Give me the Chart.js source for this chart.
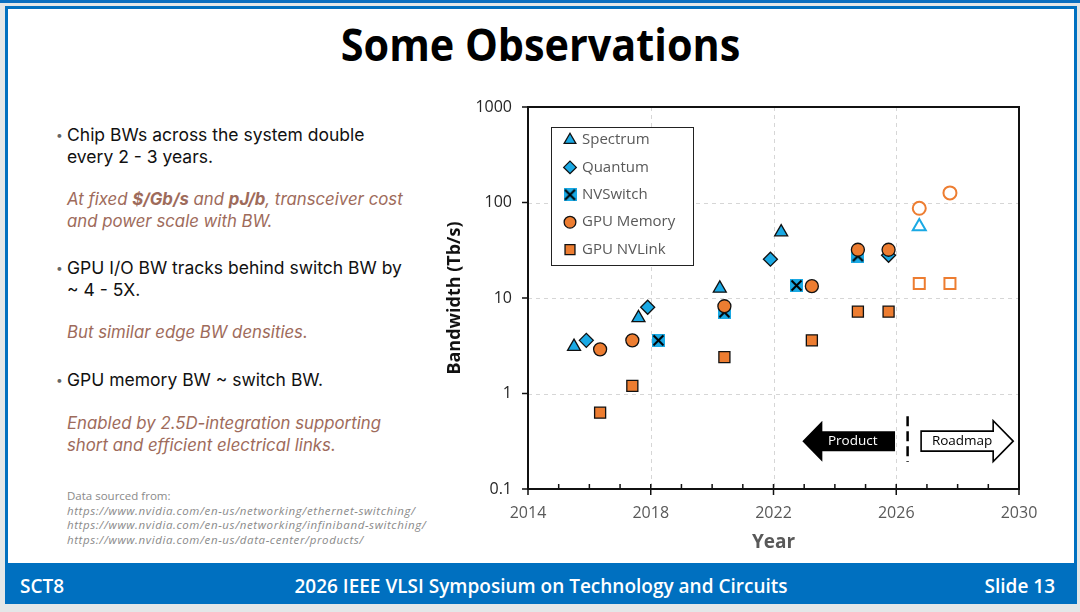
<!DOCTYPE html>
<html>
<head>
<meta charset="utf-8">
<title>Some Observations</title>
<script src="https://cdn.jsdelivr.net/npm/chart.js@4.4.1/dist/chart.umd.min.js"></script>
<style>
  html, body { margin: 0; padding: 0; }
  body { width: 1080px; height: 612px; background: #e3e7e8; position: relative; overflow: hidden; font-family: Inter, "Open Sans", sans-serif; }
  #topbar { position: absolute; left: 0; top: 0; width: 1080px; height: 3px; background: #0a6fc0; }
  #slide { position: absolute; left: 5px; top: 6px; width: 1066px; height: 592px; background: #fff; border: 3px solid #0070c0; }
  #footer { position: absolute; left: 5px; top: 563px; width: 1072px; height: 41px; background: #0070c0; color: #fff;
            font-family: "Open Sans", sans-serif; font-weight: 600; font-size: 19px; }
  #footer span { position: absolute; top: 10px; white-space: nowrap; }
  #title { position: absolute; left: 0; width: 1080px; top: 14px; text-align: center; font-family: "Open Sans", sans-serif;
           font-weight: 700; font-size: 44px; color: #000; }
  #title span { display: inline-block; transform: scaleX(0.94); }
  .para { position: absolute; left: 67px; line-height: 22px; white-space: nowrap; }
  .bul { color: #111; font-size: 17.5px; }
  .bul::before { content: "\2022"; position: absolute; left: -11px; color: #666; font-size: 12px; }
  .note { color: #9e6b5b; font-style: italic; font-size: 16.8px; }
  #src { position: absolute; left: 67px; top: 489px; font-family: "Open Sans", sans-serif; font-size: 11.5px; line-height: 14.6px; color: #8a8a8a; }
  #src i { display: block; letter-spacing: 0.6px; }
  #wrap { position: absolute; left: 440px; top: 95px; width: 610px; height: 465px; }
</style>
</head>
<body>
<div id="topbar"></div>
<div id="slide"></div>
<div id="title"><span>Some Observations</span></div>

<div class="para bul" style="top:124px">Chip BWs across the system double<br>every 2 - 3 years.</div>
<div class="para note" style="top:188px">At fixed <b>$/Gb/s</b> and <b>pJ/b</b>, transceiver cost<br>and power scale with BW.</div>
<div class="para bul" style="top:257px">GPU I/O BW tracks behind switch BW by<br>~ 4 - 5X.</div>
<div class="para note" style="top:321px">But similar edge BW densities.</div>
<div class="para bul" style="top:369px">GPU memory BW ~ switch BW.</div>
<div class="para note" style="top:412px">Enabled by 2.5D-integration supporting<br>short and efficient electrical links.</div>

<div id="src">Data sourced from:
  <i>https://www.nvidia.com/en-us/networking/ethernet-switching/</i>
  <i>https://www.nvidia.com/en-us/networking/infiniband-switching/</i>
  <i>https://www.nvidia.com/en-us/data-center/products/</i>
</div>

<div id="wrap"><canvas id="bw" width="610" height="465"></canvas></div>

<div id="footer">
  <span style="left:15px">SCT8</span>
  <span style="left:0;width:1072px;text-align:center">2026 IEEE VLSI Symposium on Technology and Circuits</span>
  <span style="right:22px">Slide 13</span>
</div>

<script>
// ---- data ----
const spectrumYear = [2015.5, 2017.6, 2020.25, 2022.25, 2026.75];
const spectrumTbps = [3.1, 6.2, 12.6, 49, 56];

const quantumYear = [2015.9, 2017.9, 2021.9, 2025.75];
const quantumTbps = [3.6, 8.0, 25.5, 28];

const nvswitchYear = [2018.25, 2020.4, 2022.75, 2024.75];
const nvswitchTbps = [3.6, 7.1, 13.5, 27.5];

const memoryYear = [2016.35, 2017.4, 2020.4, 2023.25, 2024.75, 2025.75, 2026.75, 2027.75];
const memoryTbps = [2.9, 3.6, 8.2, 13.3, 32, 32, 87, 126];

const nvlinkYear = [2016.35, 2017.4, 2020.4, 2023.25, 2024.75, 2025.75, 2026.75, 2027.75];
const nvlinkTbps = [0.63, 1.2, 2.4, 3.6, 7.2, 7.2, 14.2, 14.2];

const yTickValues = [0.1, 1, 10, 100, 1000];
const yTickLabels = ['0.1', '1', '10', '100', '1000'];
const gridYears = [2018, 2022, 2026];
const gridValues = [1, 10, 100];

// product / roadmap split and the two arrows under it
const ROADMAP_FROM = 2026.37;
const productArrow = [2025.96, 2022.94];   // tail, tip (years)
const roadmapArrow = [2026.81, 2029.81];   // tail, tip (years)
const arrowLevel = 0.317;                  // Tb/s, vertical centre of arrows
const dividerSpan = [0.578, 0.192];        // Tb/s, dashed divider top / bottom

const BLUE = '#1aa9e4';
const ORANGE = '#ed7d31';
const pts = (xs, ys) => xs.map((x, i) => ({ x, y: ys[i] }));
const isRoadmap = (c) => c.raw && c.raw.x > ROADMAP_FROM;

// NVSwitch marker: cyan square with a black X
function makeXBox(size) {
  const c = document.createElement('canvas');
  c.width = size; c.height = size;
  const g = c.getContext('2d');
  g.fillStyle = BLUE;
  g.fillRect(0, 0, size, size);
  g.strokeStyle = '#000';
  g.lineWidth = 2;
  g.beginPath();
  g.moveTo(1.5, 1.5); g.lineTo(size - 1.5, size - 1.5);
  g.moveTo(size - 1.5, 1.5); g.lineTo(1.5, size - 1.5);
  g.stroke();
  return c;
}
const xBox = makeXBox(13);

function series(label, xs, ys, color, pointStyle, radius, order) {
  return {
    label, data: pts(xs, ys), backgroundColor: color, order,
    pointStyle, pointRadius: radius, pointHoverRadius: radius,
    pointBackgroundColor: (c) => isRoadmap(c) ? '#fff' : color,
    pointBorderColor: (c) => isRoadmap(c) ? color : '#111',
    pointBorderWidth: (c) => isRoadmap(c) ? 2 : 1.3,
  };
}

const datasets = [
  series('Spectrum', spectrumYear, spectrumTbps, BLUE, 'triangle', 7.5, 2),
  series('Quantum', quantumYear, quantumTbps, BLUE, 'rectRot', 7, 3),
  series('NVSwitch', nvswitchYear, nvswitchTbps, BLUE, xBox, 7, 4),
  series('GPU Memory', memoryYear, memoryTbps, ORANGE, 'circle', 6.5, 0),
  series('GPU NVLink', nvlinkYear, nvlinkTbps, ORANGE, 'rect', 7.8, 1),
];

/* dashed grid + frame + tick marks */
const framePlugin = {
  id: 'frame',
  beforeDatasetsDraw(chart) {
    const { ctx, chartArea: a, scales: { x, y } } = chart;
    ctx.save();
    ctx.strokeStyle = '#d6d6d6';
    ctx.lineWidth = 1;
    ctx.setLineDash([4, 4]);
    gridYears.forEach((v) => {
      const px = Math.round(x.getPixelForValue(v)) + 0.5;
      ctx.beginPath(); ctx.moveTo(px, a.top); ctx.lineTo(px, a.bottom); ctx.stroke();
    });
    gridValues.forEach((v) => {
      const py = Math.round(y.getPixelForValue(v)) + 0.5;
      ctx.beginPath(); ctx.moveTo(a.left, py); ctx.lineTo(a.right, py); ctx.stroke();
    });
    ctx.restore();
  },
  afterDatasetsDraw(chart) {
    const { ctx, chartArea: a, scales: { x, y } } = chart;
    ctx.save();
    ctx.strokeStyle = '#111';
    ctx.lineWidth = 2;
    ctx.strokeRect(a.left, a.top, a.right - a.left, a.bottom - a.top);
    ctx.lineWidth = 1.5;
    ctx.beginPath();
    for (let yr = 2014; yr <= 2030; yr++) {
      const px = x.getPixelForValue(yr);
      ctx.moveTo(px, a.bottom - 5);
      ctx.lineTo(px, (yr - 2014) % 4 === 0 ? a.bottom + 6 : a.bottom);
    }
    yTickValues.forEach((v) => {
      const py = y.getPixelForValue(v);
      ctx.moveTo(a.left - 6, py); ctx.lineTo(a.left, py);
    });
    ctx.stroke();
    ctx.restore();
  },
};

/* Product <- | -> Roadmap */
function arrowPath(ctx, tipX, tailX, cy, bodyH, headH, headL) {
  const dir = Math.sign(tailX - tipX);
  const neck = tipX + dir * headL;
  ctx.beginPath();
  ctx.moveTo(tipX, cy);
  ctx.lineTo(neck, cy - headH);
  ctx.lineTo(neck, cy - bodyH);
  ctx.lineTo(tailX, cy - bodyH);
  ctx.lineTo(tailX, cy + bodyH);
  ctx.lineTo(neck, cy + bodyH);
  ctx.lineTo(neck, cy + headH);
  ctx.closePath();
}

const roadmapPlugin = {
  id: 'roadmap',
  afterDatasetsDraw(chart) {
    const { ctx, scales: { x, y } } = chart;
    const cy = y.getPixelForValue(arrowLevel);
    ctx.save();
    // divider
    ctx.strokeStyle = '#000';
    ctx.lineWidth = 2.5;
    ctx.setLineDash([10, 5]);
    const dx = x.getPixelForValue(ROADMAP_FROM);
    ctx.beginPath();
    ctx.moveTo(dx, y.getPixelForValue(dividerSpan[0]));
    ctx.lineTo(dx, y.getPixelForValue(dividerSpan[1]));
    ctx.stroke();
    ctx.setLineDash([]);

    ctx.font = '13.5px "Open Sans", sans-serif';
    ctx.textAlign = 'center';
    ctx.textBaseline = 'middle';

    // product (filled, pointing left)
    const pTail = x.getPixelForValue(productArrow[0]);
    const pTip = x.getPixelForValue(productArrow[1]);
    arrowPath(ctx, pTip, pTail, cy, 10, 20.5, 20);
    ctx.fillStyle = '#000';
    ctx.fill();
    ctx.fillStyle = '#fff';
    ctx.fillText('Product', (pTip + pTail) / 2 + 4, cy);

    // roadmap (outlined, pointing right)
    const rTail = x.getPixelForValue(roadmapArrow[0]);
    const rTip = x.getPixelForValue(roadmapArrow[1]);
    arrowPath(ctx, rTip, rTail, cy, 10, 20.5, 20);
    ctx.fillStyle = '#fff';
    ctx.fill();
    ctx.strokeStyle = '#000';
    ctx.lineWidth = 1.6;
    ctx.stroke();
    ctx.fillStyle = '#000';
    ctx.fillText('Roadmap', (rTip + rTail) / 2 - 5, cy);
    ctx.restore();
  },
};

/* boxed legend inside the plot, top-left */
const boxLegendPlugin = {
  id: 'boxLegend',
  afterDraw(chart) {
    const { ctx, chartArea: a } = chart;
    const left = a.left + 23, top = a.top + 20, w = 142, h = 138;
    ctx.save();
    ctx.fillStyle = '#fff';
    ctx.fillRect(left, top, w, h);
    ctx.strokeStyle = '#222';
    ctx.lineWidth = 1;
    ctx.strokeRect(left + 0.5, top + 0.5, w, h);
    ctx.font = '15px "Open Sans", sans-serif';
    ctx.textBaseline = 'middle';
    chart.data.datasets.forEach((ds, i) => {
      const cy = top + 13 + i * 27.4;
      ctx.fillStyle = ds.backgroundColor;
      ctx.strokeStyle = '#111';
      ctx.lineWidth = 1.3;
      Chart.helpers.drawPoint(ctx, {
        pointStyle: ds.pointStyle, radius: ds.pointRadius * 0.9, borderWidth: 1.3, rotation: 0,
      }, left + 19, cy);
      ctx.fillStyle = '#595959';
      ctx.fillText(ds.label, left + 31, cy);
    });
    ctx.restore();
  },
};

new Chart(document.getElementById('bw'), {
  type: 'scatter',
  data: { datasets },
  options: {
    responsive: false,
    animation: false,
    events: [],
    layout: { padding: { top: 12, right: 31, left: 0, bottom: 0 } },
    plugins: { legend: { display: false }, tooltip: { enabled: false } },
    scales: {
      x: {
        type: 'linear', min: 2014, max: 2030,
        grid: { display: false, drawTicks: false, tickLength: 0 },
        border: { display: false },
        ticks: { stepSize: 4, padding: 15, color: '#595959', font: { family: 'Open Sans', size: 16 }, callback: (v) => String(v) },
        title: { display: true, text: 'Year', color: '#595959', font: { family: 'Open Sans', size: 19, weight: 'bold' }, padding: { top: 0, bottom: 6 } },
        afterFit: (s) => { s.height = 71; s.paddingLeft = 0; s.paddingRight = 0; },
      },
      y: {
        type: 'logarithmic', min: 0.1, max: 1000,
        grid: { display: false, drawTicks: false, tickLength: 0 },
        border: { display: false },
        afterBuildTicks: (s) => { s.ticks = yTickValues.map((v) => ({ value: v })); },
        ticks: { padding: 16, color: '#262626', font: { family: 'Open Sans', size: 16 },
                 callback: (v) => yTickLabels[yTickValues.indexOf(v)] ?? '' },
        title: { display: true, text: 'Bandwidth (Tb/s)', color: '#111', font: { family: 'Open Sans', size: 18, weight: 'bold' }, padding: { top: 4, bottom: 0 } },
        afterFit: (s) => { s.width = 88; s.paddingTop = 0; s.paddingBottom = 0; },
      },
    },
  },
  plugins: [framePlugin, roadmapPlugin, boxLegendPlugin],
});
</script>
</body>
</html>
